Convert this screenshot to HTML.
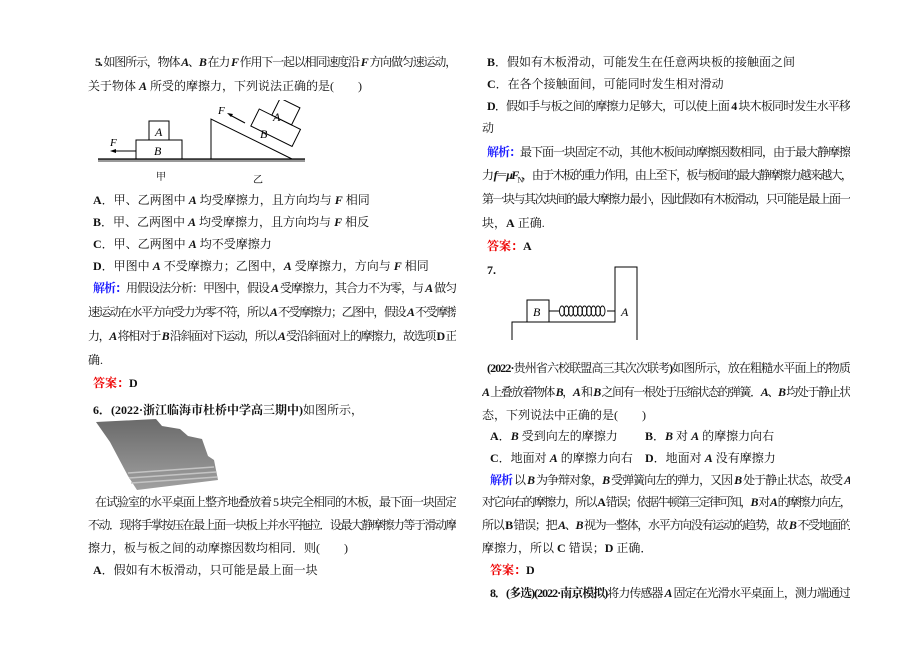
<!DOCTYPE html>
<html><head><meta charset="utf-8"><style>
body{margin:0;width:920px;height:651px;background:#fff;position:relative;overflow:hidden;font-family:"Liberation Serif","Noto Serif CJK SC","Noto Sans CJK SC",serif;font-size:12px;color:#111}
.l{position:absolute;white-space:nowrap;line-height:16px;height:16px;overflow:hidden}
.j{text-align:justify;text-align-last:justify}
.L{left:88px;width:368px}.R{left:482px;width:368px}
i{font-weight:bold;font-style:italic}
b{font-weight:bold}
.bl{color:#1a1aff;font-weight:bold}.rd{color:#e00;font-weight:bold}
sub{font-size:8px;line-height:0}
</style></head><body>
<div class="l L j" style="top:54px;left:95px;width:361px"><b>5.</b> 如图所示，物体 <i>A</i>、<i>B</i> 在力 <i>F</i> 作用下一起以相同速度沿 <i>F</i> 方向做匀速运动，</div>
<div class="l L" style="top:78px">关于物体 <i>A</i> 所受的摩擦力，下列说法正确的是(　　)</div>
<svg style="position:absolute;left:90px;top:100px" width="230" height="90" viewBox="0 0 230 90">
<rect x="8" y="59" width="207" height="3" fill="#999"/>
<line x1="8" y1="59" x2="215" y2="59" stroke="#000" stroke-width="1.2"/>
<rect x="46" y="40" width="46" height="19" fill="none" stroke="#000"/>
<rect x="59" y="21" width="20" height="19" fill="none" stroke="#000"/>
<line x1="46" y1="51" x2="22" y2="51" stroke="#000"/><path d="M20 51 l6 -2 v4z"/>
<text x="20" y="46" font-size="11" font-style="italic">F</text>
<text x="64" y="55" font-size="12" font-style="italic">B</text>
<text x="65" y="36" font-size="12" font-style="italic">A</text>
<path d="M121 59 V19 L202 59" fill="none" stroke="#000"/>
<g transform="rotate(26.3 160 39)"><rect x="155" y="8" width="46" height="19" fill="none" stroke="#000"/><rect x="169" y="-11" width="22" height="19" fill="none" stroke="#000"/></g>
<text x="170" y="38" font-size="12" font-style="italic">B</text>
<text x="183" y="21" font-size="12" font-style="italic">A</text>
<line x1="155" y1="23" x2="140" y2="15" stroke="#000"/><path d="M137 13 l6 1 -2 3z"/>
<text x="128" y="14" font-size="11" font-style="italic">F</text>
<text x="66" y="80" font-size="10">甲</text><text x="163" y="83" font-size="10">乙</text>
</svg>
<div class="l L" style="top:192px;left:93px"><b>A</b>．甲、乙两图中 <i>A</i> 均受摩擦力，且方向均与 <i>F</i> 相同</div>
<div class="l L" style="top:214px;left:93px"><b>B</b>．甲、乙两图中 <i>A</i> 均受摩擦力，且方向均与 <i>F</i> 相反</div>
<div class="l L" style="top:236px;left:93px"><b>C</b>．甲、乙两图中 <i>A</i> 均不受摩擦力</div>
<div class="l L" style="top:258px;left:93px"><b>D</b>．甲图中 <i>A</i> 不受摩擦力；乙图中，<i>A</i> 受摩擦力，方向与 <i>F</i> 相同</div>
<div class="l L j" style="top:280px;left:93px;width:363px"><span class="bl">解析：</span>用假设法分析：甲图中，假设 <i>A</i> 受摩擦力，其合力不为零，与 <i>A</i> 做匀</div>
<div class="l L j" style="top:304px">速运动在水平方向受力为零不符，所以 <i>A</i> 不受摩擦力；乙图中，假设 <i>A</i> 不受摩擦</div>
<div class="l L j" style="top:328px">力，<i>A</i> 将相对于 <i>B</i> 沿斜面对下运动，所以 <i>A</i> 受沿斜面对上的摩擦力，故选项 <b>D</b> 正</div>
<div class="l L" style="top:352px">确.</div>
<div class="l L" style="top:375px;left:93px"><span class="rd">答案：</span><b>D</b></div>
<div class="l L" style="top:402px;left:93px"><b>6．(2022·浙江临海市杜桥中学高三期中)</b>如图所示，</div>
<svg style="position:absolute;left:90px;top:412px" width="140" height="80">
<defs><linearGradient id="g" x1="0" y1="0" x2="0" y2="1"><stop offset="0" stop-color="#6a6a6a"/><stop offset="1" stop-color="#a0a0a0"/></linearGradient></defs>
<path d="M6 10 L66 7 L72 14 L90 17 L98 24 L112 27 L118 44 L124 48 L128 68 L47 78 L38 64 L20 30 Z" fill="url(#g)"/>
<path d="M38 61 L124 55 M39 66 L126 60 M41 71 L127 65" stroke="#c4c4c4" stroke-width="1.5"/>
</svg>
<div class="l L j" style="top:494px;left:95px;width:361px">在试验室的水平桌面上整齐地叠放着 5 块完全相同的木板，最下面一块固定</div>
<div class="l L j" style="top:517px">不动．现将手掌按压在最上面一块板上并水平拖拉．设最大静摩擦力等于滑动摩</div>
<div class="l L" style="top:540px">擦力，板与板之间的动摩擦因数均相同．则(　　)</div>
<div class="l L" style="top:562px;left:93px"><b>A</b>．假如有木板滑动，只可能是最上面一块</div>

<div class="l R" style="top:54px;left:487px"><b>B</b>．假如有木板滑动，可能发生在任意两块板的接触面之间</div>
<div class="l R" style="top:76px;left:487px"><b>C</b>．在各个接触面间，可能同时发生相对滑动</div>
<div class="l R j" style="top:98px;left:487px;width:363px"><b>D</b>．假如手与板之间的摩擦力足够大，可以使上面 <b>4</b> 块木板同时发生水平移</div>
<div class="l R" style="top:120px">动</div>
<div class="l R j" style="top:144px;left:487px;width:363px"><span class="bl">解析：</span>最下面一块固定不动，其他木板间动摩擦因数相同，由于最大静摩擦</div>
<div class="l R j" style="top:167px">力 <i>f</i>＝<i>μF</i><sub>N</sub>，由于木板的重力作用，由上至下，板与板间的最大静摩擦力越来越大，</div>
<div class="l R j" style="top:191px">第一块与其次块间的最大摩擦力最小，因此假如有木板滑动，只可能是最上面一</div>
<div class="l R" style="top:215px">块，<b>A</b> 正确.</div>
<div class="l R" style="top:238px;left:487px"><span class="rd">答案：</span><b>A</b></div>
<div class="l R" style="top:262px;left:487px"><b>7.</b></div>
<svg style="position:absolute;left:500px;top:260px" width="160" height="80">
<path d="M12 80 V62 H115 V7 H137 V80" fill="none" stroke="#000"/>
<rect x="27" y="40" width="22" height="22" fill="none" stroke="#000"/>
<text x="33" y="56" font-size="12" font-style="italic">B</text>
<text x="121" y="56" font-size="12" font-style="italic">A</text>
<line x1="49" y1="51" x2="59" y2="51" stroke="#000"/><line x1="107" y1="51" x2="115" y2="51" stroke="#000"/>
<g fill="none" stroke="#000" stroke-width="0.9">
<ellipse cx="62" cy="51" rx="2.5" ry="5"/><ellipse cx="66.5" cy="51" rx="2.5" ry="5"/><ellipse cx="71" cy="51" rx="2.5" ry="5"/><ellipse cx="75.5" cy="51" rx="2.5" ry="5"/><ellipse cx="80" cy="51" rx="2.5" ry="5"/><ellipse cx="84.5" cy="51" rx="2.5" ry="5"/><ellipse cx="89" cy="51" rx="2.5" ry="5"/><ellipse cx="93.5" cy="51" rx="2.5" ry="5"/><ellipse cx="98" cy="51" rx="2.5" ry="5"/><ellipse cx="102.5" cy="51" rx="2.5" ry="5"/>
</g>
</svg>
<div class="l R j" style="top:360px;left:487px;width:363px"><b>(2022·</b>贵州省六校联盟高三其次次联考<b>)</b>如图所示，放在粗糙水平面上的物质</div>
<div class="l R j" style="top:384px"><i>A</i> 上叠放着物体 <i>B</i>，<i>A</i> 和 <i>B</i> 之间有一根处于压缩状态的弹簧．<i>A</i>、<i>B</i> 均处于静止状</div>
<div class="l R" style="top:407px">态，下列说法中正确的是(　　)</div>
<div class="l" style="top:428px;left:490px"><b>A</b>．<i>B</i> 受到向左的摩擦力</div>
<div class="l" style="top:428px;left:645px"><b>B</b>．<i>B</i> 对 <i>A</i> 的摩擦力向右</div>
<div class="l" style="top:450px;left:490px"><b>C</b>．地面对 <i>A</i> 的摩擦力向右</div>
<div class="l" style="top:450px;left:645px"><b>D</b>．地面对 <i>A</i> 没有摩擦力</div>
<div class="l R j" style="top:472px;left:490px;width:360px"><span class="bl">解析</span> 以 <i>B</i> 为争辩对象，<i>B</i> 受弹簧向左的弹力，又因 <i>B</i> 处于静止状态，故受 <i>A</i></div>
<div class="l R j" style="top:494px">对它向右的摩擦力，所以 <b>A</b> 错误；依据牛顿第三定律可知，<i>B</i> 对 <i>A</i> 的摩擦力向左，</div>
<div class="l R j" style="top:517px">所以 <b>B</b> 错误；把 <i>A</i>、<i>B</i> 视为一整体，水平方向没有运动的趋势，故 <i>B</i> 不受地面的</div>
<div class="l R" style="top:540px">摩擦力，所以 <b>C</b> 错误；<b>D</b> 正确．</div>
<div class="l R" style="top:562px;left:490px"><span class="rd">答案：</span><b>D</b></div>
<div class="l R j" style="top:585px;left:490px;width:360px"><b>8．(多选)(2022·南京模拟)</b>将力传感器 <i>A</i> 固定在光滑水平桌面上，测力端通过</div>
<script>
document.querySelectorAll('.l').forEach(function(el){
  var ls=0;
  while(el.scrollWidth>el.clientWidth+1 && ls>-4){ls-=0.1;el.style.letterSpacing=ls+'px';}
});
</script>
</body></html>
